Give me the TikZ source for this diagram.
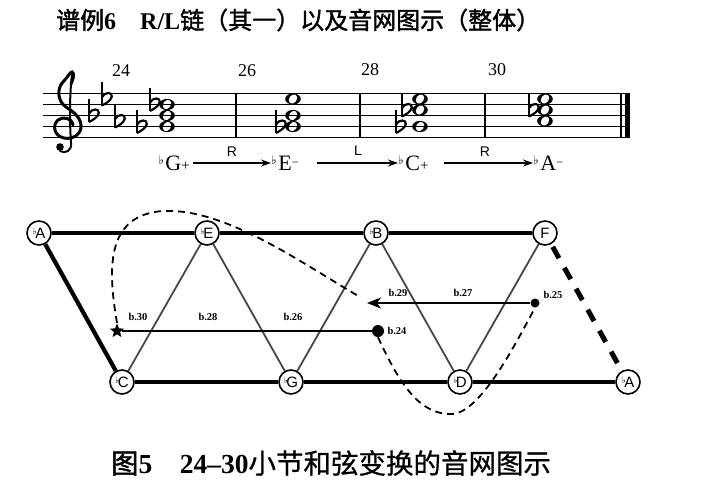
\documentclass[tikz,border=0pt]{standalone}
\usepackage{fontspec}
\setmainfont{Liberation Serif}
\newfontfamily\cjk{Noto Sans CJK SC}[FakeBold=1.5]
\newfontfamily\cjkr{Noto Sans CJK SC}[FakeBold=0.8]
\newfontfamily\sansf{Liberation Sans}
\newfontfamily\djv{DejaVu Sans}
\usetikzlibrary{arrows.meta,shapes.geometric}
\definecolor{tri}{HTML}{4F3F55}
\newcommand\nfl{\raisebox{3.5pt}{\djv\fontsize{8.5}{8.5}\selectfont ♭}\kern-1.5pt}
\newcommand\cfl{\raisebox{6pt}{\djv\fontsize{12}{12}\selectfont ♭}\kern1.5pt}
\begin{document}
\begin{tikzpicture}[x=1pt,y=-1pt,
  tn/.style={circle,draw,line width=1.6pt,fill=white,minimum size=24pt,inner sep=0pt,font=\sansf\fontsize{15}{15}\selectfont},
  heavy/.style={line width=4.2pt},
  triline/.style={line width=1.8pt,draw=tri},
  hdash/.style={line width=5pt,dash pattern=on 13pt off 11pt},
  dcurve/.style={line width=1.8pt,dash pattern=on 7pt off 5pt},
  barlab/.style={font=\bfseries\fontsize{10.5}{10.5}\selectfont,inner sep=1pt},
  hline/.style={line width=1.8pt},
  blackdot/.style={circle,fill,inner sep=0pt},
  staffl/.style={line width=1.1pt},
  chordlab/.style={font=\fontsize{22}{22}\selectfont,inner sep=0pt,text height=15pt,text depth=0pt},
  tarrow/.style={line width=1.2pt,-{Stealth[length=10pt,width=7pt]}},
  rl/.style={font=\sansf\fontsize{14}{14}\selectfont,inner sep=0pt},
  mnum/.style={font=\fontsize{18}{18}\selectfont,inner sep=0pt},
  flatsign/.pic={
    \draw[line width=1.3pt] (-3,-17) -- (-3,6.5);
    \draw[line width=2.2pt] (-3,-2) .. controls (0,-7.5) and (7.5,-7) .. (6.8,-2.5) .. controls (6,1.5) and (1,4.5) .. (-3,6.5);
  },
  wnote/.pic={
    \fill (0,0) ellipse [x radius=7.8, y radius=5.6];
    \fill[white,rotate=-35] (0,0) ellipse [x radius=3.8, y radius=5];
  }
]
\useasboundingbox (0,0) rectangle (720,496);

% titles
\node[anchor=west,inner sep=0pt] (title) at (56,20) {{\cjk\fontsize{24}{24}\selectfont 谱例}{\bfseries\fontsize{24}{24}\selectfont 6\hspace{1em}R/L}{\cjk\fontsize{24}{24}\selectfont 链（其一）以及音网图示（整体）}};
\node[inner sep=0pt] (caption) at (331,463) {{\cjk\fontsize{27.5}{27.5}\selectfont 图}{\bfseries\fontsize{27.5}{27.5}\selectfont 5\hspace{1em}24–30}{\cjkr\fontsize{27.5}{27.5}\selectfont 小节和弦变换的音网图示}};

% notes
\foreach \x/\y in {167/126.5,167/115.5,167/104.5, 293/126.5,293/115.5,293/99, 420/126.5,420/110,420/99, 545/121,545/110,545/99}
  \pic at (\x,\y) {wnote};
% flats
\foreach \x/\y in {92/115.5,105/99,118/121,140/126.5,153/104.5,279/126.5,399/126.5,405/110,532/110}
  \pic at (\x,\y) {flatsign};
% staff
\foreach \y in {93.5,104.5,115.5,126.5,137.5}
  \draw[staffl] (43,\y) -- (629,\y);
\foreach \x in {236,360,485}
  \draw[line width=1.5pt] (\x,93.5) -- (\x,137.5);
\draw[line width=1.3pt] (621,93.5) -- (621,137.5);
\fill (625,93) rectangle (629.5,138);
% treble clef
\draw[line width=3pt,line cap=round]
  (73,125) .. controls (72,118) and (63,116) .. (58,120)
  .. controls (52,125) and (54,136) .. (64,138)
  .. controls (74,140) and (82,133) .. (81,125)
  .. controls (80,116) and (72,111) .. (66,107)
  .. controls (57,101) and (57,88) .. (63,82)
  .. controls (67,78) and (70,72) .. (72,72)
  .. controls (75,73) and (73,80) .. (71,84);
\draw[line width=2pt,line cap=round]
  (72,74) .. controls (69,100) and (70,128) .. (71,143)
  .. controls (72,151) and (65,154) .. (60,151);
\fill (60,147) circle (3.8);

% measure numbers
\node[mnum] (m24) at (121,71) {24};
\node[mnum] (m26) at (247,71) {26};
\node[mnum] (m28) at (370,70) {28};
\node[mnum] (m30) at (497,70) {30};

% chord chain
\node[chordlab,anchor=east] (gp) at (190,163) {\cfl G\raisebox{0.5pt}{\fontsize{15}{15}\selectfont +}};
\node[chordlab,anchor=west] (em) at (271,163) {\cfl E\raisebox{4pt}{\fontsize{12}{12}\selectfont −}};
\node[chordlab,anchor=west] (cp) at (398,163) {\cfl C\raisebox{0.5pt}{\fontsize{15}{15}\selectfont +}};
\node[chordlab,anchor=west] (am) at (533,163) {\cfl A\raisebox{4pt}{\fontsize{12}{12}\selectfont −}};
\draw[tarrow,shorten <=3pt] (gp) -- (em);
\draw[tarrow,shorten <=18pt] (em) -- (cp);
\draw[tarrow,shorten <=15pt] (cp) -- (am);
\node[rl] (r1) at (232,152) {R};
\node[rl] (l1) at (358,151) {L};
\node[rl] (r2) at (485,152) {R};

% network nodes
\node[tn] (Aa) at (39,233) {\nfl A};
\node[tn] (Eb) at (207,233) {\nfl E};
\node[tn] (Bb) at (376,233) {\nfl B};
\node[tn] (F)  at (545,233) {F};
\node[tn] (Cb) at (122,382) {\nfl C};
\node[tn] (Gb) at (291,382) {\nfl G};
\node[tn] (Db) at (460,382) {\nfl D};
\node[tn] (Ab) at (628,382) {\nfl A};

\draw[heavy] (Aa) -- (Eb);
\draw[heavy] (Eb) -- (Bb);
\draw[heavy] (Bb) -- (F);
\draw[heavy] (Cb) -- (Gb);
\draw[heavy] (Gb) -- (Db);
\draw[heavy] (Db) -- (Ab);
\draw[heavy] (Aa) -- (Cb);
\draw[triline] (Cb) -- (Eb);
\draw[triline] (Eb) -- (Gb);
\draw[triline] (Gb) -- (Bb);
\draw[triline] (Bb) -- (Db);
\draw[triline] (Db) -- (F);
\draw[hdash,shorten <=3pt] (F) -- (Ab);

% bar paths
\node[star,star points=5,star point ratio=2.3,fill,inner sep=0pt,minimum size=15pt] (s30) at (117,331) {};
\node[blackdot,minimum size=12pt] (d24) at (378,331) {};
\node[blackdot,minimum size=9pt] (d25) at (535,303) {};
\coordinate (e29) at (367,303);
\draw[hline] (d24) -- (s30);
\draw[hline,-{Stealth[length=14pt,width=11pt,inset=4pt]}] (d25) -- (e29);

\draw[dcurve] (s30.north) .. controls (108,270) and (105,215) .. (163,211)
   .. controls (225,208) and (300,262) .. (360,297);
\draw[dcurve] (d24.south) .. controls (400,385) and (420,415) .. (452,414)
   .. controls (480,413) and (515,345) .. (d25.south);

\node[barlab] (b30) at (138,317) {b.30};
\node[barlab] (b28) at (208,317) {b.28};
\node[barlab] (b26) at (293,317) {b.26};
\node[barlab] (b24) at (397,331) {b.24};
\node[barlab] (b29) at (398,293) {b.29};
\node[barlab] (b27) at (463,293) {b.27};
\node[barlab] (b25) at (553,295) {b.25};
\end{tikzpicture}
\end{document}
